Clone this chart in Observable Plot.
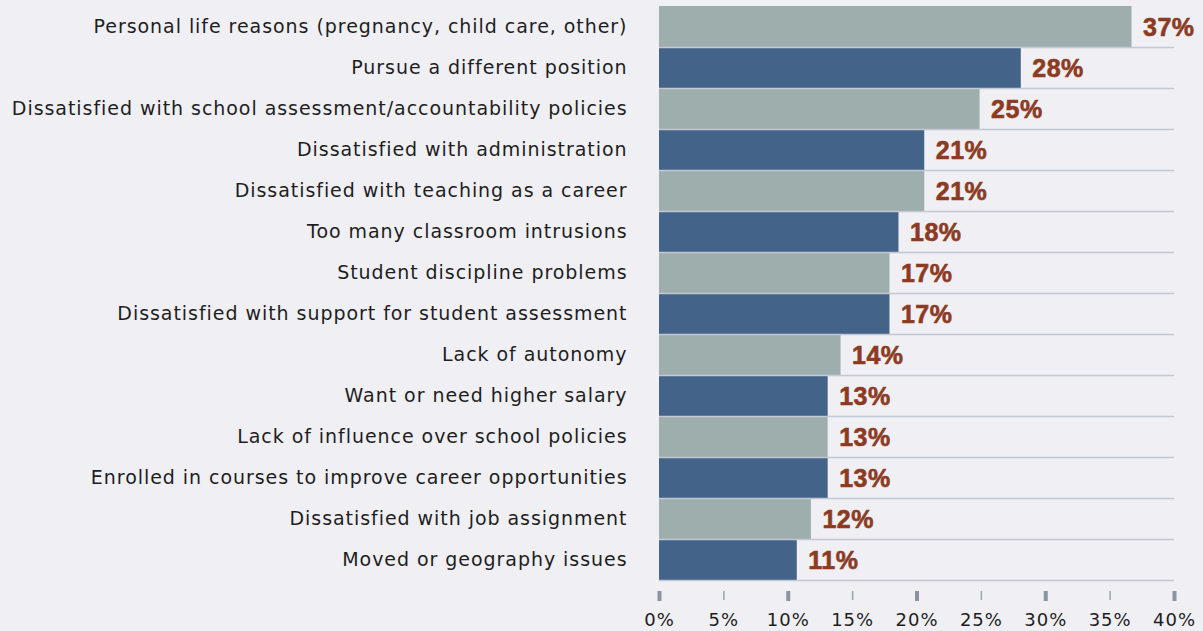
<!DOCTYPE html>
<html>
<head>
<meta charset="utf-8">
<script src="https://cdn.jsdelivr.net/npm/d3@7"></script>
<script src="https://cdn.jsdelivr.net/npm/@observablehq/plot@0.6"></script>
<style>
  html, body { margin: 0; padding: 0; background: #efeff4; }
  #chart svg { display: block; }
  #chart g[aria-label="y-axis tick label"] text { letter-spacing: 0.95px; }
  #chart g[aria-label="x-axis tick label"] text { letter-spacing: 1px; }
  #chart g[aria-label="text"] text { letter-spacing: 0.5px; }
</style>
</head>
<body>
<div id="chart"></div>
<script>
const reasons = [
  "Personal life reasons (pregnancy, child care, other)",
  "Pursue a different position",
  "Dissatisfied with school assessment/accountability policies",
  "Dissatisfied with administration",
  "Dissatisfied with teaching as a career",
  "Too many classroom intrusions",
  "Student discipline problems",
  "Dissatisfied with support for student assessment",
  "Lack of autonomy",
  "Want or need higher salary",
  "Lack of influence over school policies",
  "Enrolled in courses to improve career opportunities",
  "Dissatisfied with job assignment",
  "Moved or geography issues"
];
const percents = [36.7, 28.1, 24.9, 20.6, 20.6, 18.6, 17.9, 17.9, 14.1, 13.1, 13.1, 13.1, 11.8, 10.7];
const labels = ["37%", "28%", "25%", "21%", "21%", "18%", "17%", "17%", "14%", "13%", "13%", "13%", "12%", "11%"];
const groups = ["a", "b", "a", "b", "a", "b", "a", "b", "a", "b", "a", "b", "a", "b"];
const majorTicks = [0, 10, 20, 30, 40];
const minorTicks = [5, 15, 25, 35];
const tickValues = [0, 5, 10, 15, 20, 25, 30, 35, 40];

const data = reasons.map((r, i) => ({reason: r, value: percents[i], label: labels[i], group: groups[i]}));

const bandH = 41;
const chart = Plot.plot({
  width: 1203,
  height: 631,
  marginTop: 6,
  marginBottom: 40,
  marginLeft: 659,
  marginRight: 29,
  style: {background: "#efeff4", fontFamily: "DejaVu Sans"},
  x: {domain: [0, 40]},
  y: {domain: reasons, padding: 0, insetBottom: 11, label: null},
  color: {domain: ["a", "b"], range: ["#9eaead", "#436389"]},
  marks: [
    Plot.barX(data, {x: "value", y: "reason", fill: "group", inset: 0}),
    Plot.ruleY(data, {y: "reason", x1: 0, x2: 40, dy: bandH / 2, stroke: "#c3c8d2", strokeWidth: 1.5}),
    Plot.text(data, {x: "value", y: "reason", text: "label", dx: 11, dy: 1, textAnchor: "start",
      fill: "#8c3b22", stroke: "#8c3b22", strokeWidth: 0.6, fontWeight: "bold", fontSize: 25, fontFamily: "Liberation Sans"}),
    Plot.axisY({tickSize: 0, tickPadding: 32, fontSize: 19, color: "#1e1e1e", label: null}),
    Plot.axisX({ticks: majorTicks, tickSize: 10, tickPadding: 0, strokeWidth: 4, stroke: "#8a959f", label: null, text: null}),
    Plot.axisX({ticks: minorTicks, tickSize: 9, tickPadding: 0, strokeWidth: 1.5, stroke: "#9aa4ad", label: null, text: null}),
    Plot.axisX({ticks: tickValues, tickSize: 0, tickPadding: 22, tickFormat: d => d + "%", fontSize: 18, color: "#1e1e1e", label: null})
  ]
});
document.getElementById("chart").appendChild(chart);
</script>
</body>
</html>
